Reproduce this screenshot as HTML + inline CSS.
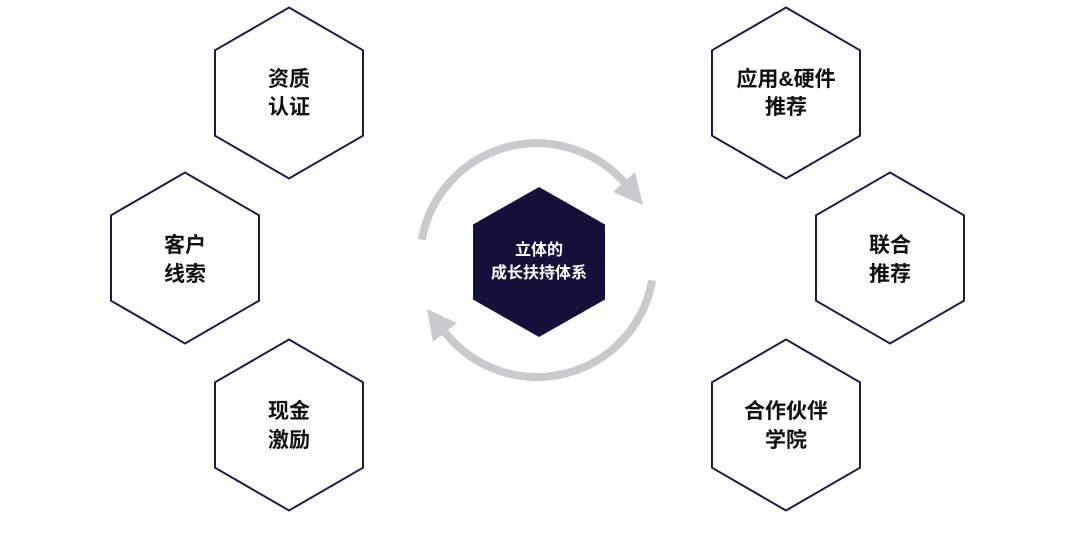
<!DOCTYPE html>
<html><head><meta charset="utf-8"><style>
html,body{margin:0;padding:0;background:#fff;}
svg{display:block;}
text{font-family:"Liberation Sans","Noto Sans CJK SC",sans-serif;font-weight:bold;}
</style></head><body>
<svg width="1080" height="533" viewBox="0 0 1080 533" xmlns="http://www.w3.org/2000/svg">
<rect width="1080" height="533" fill="#fff"/>
<g fill="none" stroke="#1e1a4a" stroke-width="2">
<polygon points="289,7.5 363,50.3 363,135.7 289,178.5 215,135.7 215,50.3"/>
<polygon points="185,172.5 259,215.3 259,300.7 185,343.5 111,300.7 111,215.3"/>
<polygon points="289,339.5 363,382.3 363,467.7 289,510.5 215,467.7 215,382.3"/>
<polygon points="786,7.5 860,50.3 860,135.7 786,178.5 712,135.7 712,50.3"/>
<polygon points="890,172.5 964,215.3 964,300.7 890,343.5 816,300.7 816,215.3"/>
<polygon points="786,339.5 860,382.3 860,467.7 786,510.5 712,467.7 712,382.3"/>
</g>
<g fill="none" stroke="#cacacd" stroke-width="8">
<path d="M421.8,239.7 A117,117 0 0 1 624,182"/>
<path d="M652.2,280.3 A117,117 0 0 1 444.8,332.1"/>
</g>
<g fill="#cacacd">
<polygon points="635,172 613,192 643,205"/>
<polygon points="433,342 457,323 427,309"/>
</g>
<polygon points="539,187 605,224.5 605,299.5 539,337 473,299.5 473,224.5" fill="#13103a"/>
<g font-size="21" fill="#111" text-anchor="middle">
<text x="289" y="86">资质</text><text x="289" y="114">认证</text>
<text x="185" y="252">客户</text><text x="185" y="281">线索</text>
<text x="289" y="418">现金</text><text x="289" y="447">激励</text>
<text x="786" y="86">应用&amp;硬件</text><text x="786" y="114">推荐</text>
<text x="890" y="252">联合</text><text x="890" y="281">推荐</text>
<text x="786" y="418">合作伙伴</text><text x="786" y="447">学院</text>
</g>
<g font-size="16" fill="#fff" text-anchor="middle">
<text x="539" y="255">立体的</text><text x="539" y="278">成长扶持体系</text>
</g>
</svg>
</body></html>
